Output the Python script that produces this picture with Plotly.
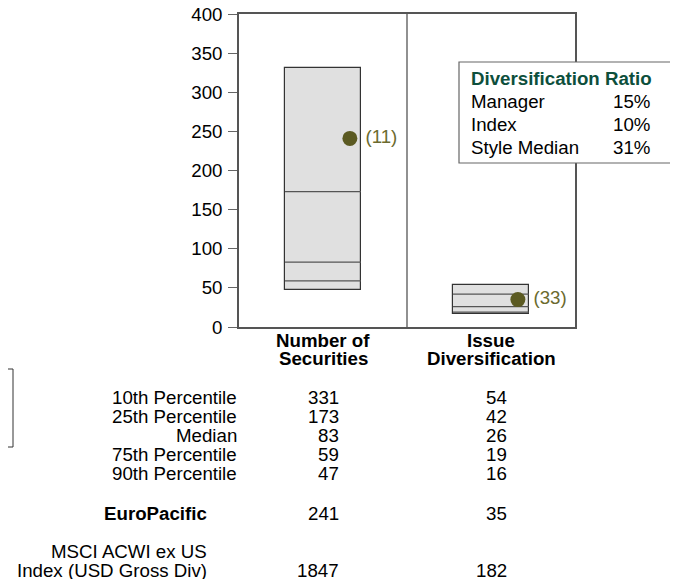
import plotly.graph_objects as go

category_lines = [["Number of", "Securities"], ["Issue", "Diversification"]]
p10 = [331, 54]
p25 = [173, 42]
median = [83, 26]
p75 = [59, 19]
p90 = [47, 16]
manager = [241, 35]
manager_rank = ["(11)", "(33)"]
index_vals = [1847, 182]
row_labels = ["10th Percentile", "25th Percentile", "Median", "75th Percentile", "90th Percentile"]
ratio_labels = ["Manager", "Index", "Style Median"]
ratio_values = ["15%", "10%", "31%"]
manager_name = "EuroPacific"
index_name_lines = ["MSCI ACWI ex US", "Index (USD Gross Div)"]

OFF = 8  # page body margin
W, H = 678 - OFF, 579
L, R, T, B = 239, 575, 14, 327   # plot area in page pixels
FONT = "Liberation Sans, Arial, sans-serif"
FS = 18.7
OLIVE = "#5b5a22"

def px(x):
    return (x - L) / (R - L)

def py(y):
    return (B - y) / (B - T)

def yval(pyx):
    return (B - pyx) / (B - T) * 400

centers = [0.5, 1.5]
hw = 0.226
fig = go.Figure()

fig.add_trace(go.Bar(
    x=centers, y=[a - b for a, b in zip(p10, p90)], base=p90, width=2 * hw,
    marker=dict(color="#e0e0e0", line=dict(color="#333333", width=1.2)),
    hoverinfo="skip", showlegend=False))

for vals in (p25, median, p75):
    for c, v in zip(centers, vals):
        fig.add_trace(go.Scatter(x=[c - hw, c + hw], y=[v, v], mode="lines",
                                 line=dict(color="#555555", width=1.2),
                                 hoverinfo="skip", showlegend=False))

fig.add_trace(go.Scatter(
    x=[c + 0.16 for c in centers], y=manager, mode="markers+text",
    marker=dict(color=OLIVE, size=15), text=[" " + r for r in manager_rank],
    textposition="middle right",
    textfont=dict(color="#6b6a2e", size=FS, family=FONT), showlegend=False,
    cliponaxis=False, hoverinfo="skip"))

fig.add_trace(go.Scatter(x=[-0.014], y=[yval(513)], mode="markers", marker=dict(color=OLIVE, size=15),
                         cliponaxis=False, showlegend=False, hoverinfo="skip"))
fig.add_trace(go.Scatter(x=[0.006], y=[yval(572)], mode="markers",
                         marker=dict(color="#b5430a", size=12, symbol="triangle-up"),
                         cliponaxis=False, showlegend=False, hoverinfo="skip"))

shapes = [
    dict(type="line", xref="x", yref="paper", x0=1, x1=1, y0=0, y1=1,
         line=dict(color="#555555", width=1.3)),
    dict(type="rect", xref="paper", yref="paper", x0=px(459), x1=px(671), y0=py(62), y1=py(163),
         fillcolor="white", line=dict(color="#666666", width=1.2), layer="above"),
    dict(type="line", xref="paper", yref="paper", x0=px(13), x1=px(13), y0=py(369), y1=py(447),
         line=dict(color="#333333", width=1)),
    dict(type="line", xref="paper", yref="paper", x0=px(8), x1=px(13), y0=py(369), y1=py(369),
         line=dict(color="#333333", width=1)),
    dict(type="line", xref="paper", yref="paper", x0=px(8), x1=px(13), y0=py(447), y1=py(447),
         line=dict(color="#333333", width=1)),
]

def text(x, y, s, anchor, bold=False, color="black"):
    return dict(x=px(x), y=py(y), xref="paper", yref="paper",
                text=("<b>%s</b>" % s) if bold else s, showarrow=False,
                xanchor=anchor, yanchor="middle", font=dict(size=FS, family=FONT, color=color))

ann = []
for c, lines in zip([323, 491], category_lines):
    for j, ln in enumerate(lines):
        ann.append(text(c, 340.3 + 17.8 * j, ln, "center", bold=True))

ann.append(text(469, 78, "Diversification Ratio", "left", bold=True, color="#0d4f3c"))
for i, (lab, val) in enumerate(zip(ratio_labels, ratio_values)):
    y = 101.5 + 23 * i
    ann.append(text(469, y, lab, "left"))
    ann.append(text(652, y, val, "right"))

rows = [p10, p25, median, p75, p90]
for i, (lab, vals) in enumerate(zip(row_labels, rows)):
    y = 397.5 + 19 * i
    ann.append(text(239, y, lab, "right"))
    for colx, v in zip([341, 509], vals):
        ann.append(text(colx, y, str(v), "right"))

ann.append(text(209, 513, manager_name, "right", bold=True))
for colx, v in zip([341, 509], manager):
    ann.append(text(colx, 513, str(v), "right"))

for j, ln in enumerate(index_name_lines):
    ann.append(text(209, 551 + 19 * j, ln, "right"))
for colx, v in zip([341, 509], index_vals):
    ann.append(text(colx, 570, str(v), "right"))

fig.update_layout(
    width=W, height=H, margin=dict(l=L - OFF, r=W - (R - OFF), t=T - OFF, b=H - (B - OFF), pad=0),
    plot_bgcolor="white", paper_bgcolor="white",
    font=dict(family=FONT, size=FS, color="black"),
    shapes=shapes, annotations=ann, bargap=0,
    xaxis=dict(range=[0, 2], showticklabels=False, automargin=False,
               showgrid=False, zeroline=False, showline=True, mirror=True,
               linecolor="#555555", linewidth=1.5, ticks=""),
    yaxis=dict(range=[0, 400], tickvals=list(range(0, 401, 50)), showgrid=False, zeroline=False,
               showline=True, mirror=True, linecolor="#555555", linewidth=1.5, automargin=False,
               ticklabeloverflow="allow", ticklabelstandoff=2,
               ticks="outside", ticklen=9, tickcolor="#666666", tickfont=dict(size=FS, family=FONT)),
)

fig.write_html("out.html")
